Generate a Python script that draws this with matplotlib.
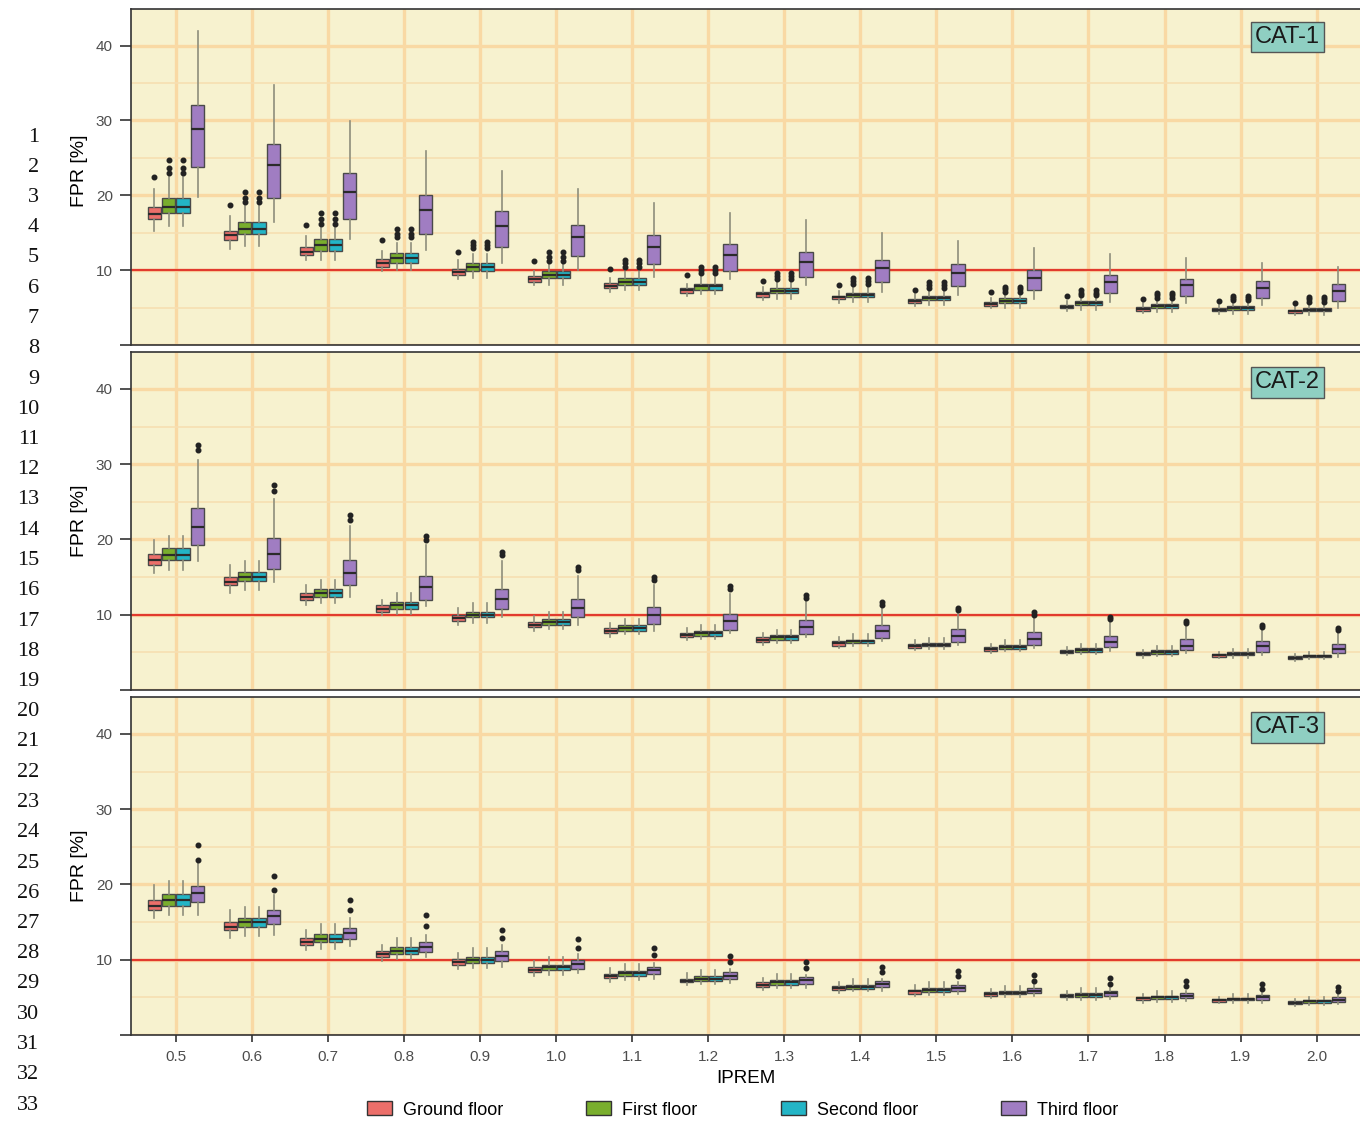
import matplotlib.pyplot as plt
from matplotlib.patches import Patch
from matplotlib.ticker import MultipleLocator

plt.rcParams['font.family'] = ['Liberation Sans', 'DejaVu Sans']

iprem = ['0.5', '0.6', '0.7', '0.8', '0.9', '1.0', '1.1', '1.2',
         '1.3', '1.4', '1.5', '1.6', '1.7', '1.8', '1.9', '2.0']
floors = ['Ground floor', 'First floor', 'Second floor', 'Third floor']
floor_colors = ['#ec6f6a', '#79ae2d', '#23b5c6', '#a07dc2']
panels = ['CAT-1', 'CAT-2', 'CAT-3']
threshold = 10

# ---- CAT-1 ----
cat1_ground = {
    'med': [17.5, 14.7, 12.4, 10.9, 9.8, 8.8, 7.9, 7.3, 6.8, 6.4, 5.9, 5.5, 5.1, 4.8, 4.7, 4.5],
    'q1':  [16.8, 14.0, 12.0, 10.4, 9.3, 8.4, 7.6, 7.0, 6.4, 6.1, 5.6, 5.2, 4.9, 4.6, 4.5, 4.3],
    'q3':  [18.4, 15.3, 13.1, 11.5, 10.2, 9.2, 8.3, 7.6, 7.1, 6.6, 6.1, 5.7, 5.3, 5.1, 4.9, 4.7],
    'lo':  [15.3, 12.8, 11.3, 9.9, 8.8, 8.0, 7.1, 6.6, 6.0, 5.6, 5.2, 4.9, 4.6, 4.3, 4.2, 4.0],
    'hi':  [20.8, 17.2, 14.5, 12.6, 11.3, 9.9, 8.9, 8.2, 7.8, 7.2, 6.8, 6.3, 5.9, 5.6, 5.4, 5.2],
}
cat1_ground_out = [[22.4], [18.7], [16.0], [14.0], [12.4], [11.2], [10.2], [9.3],
                   [8.6], [8.0], [7.4], [7.1], [6.5], [6.1], [5.9], [5.6]]

cat1_first = {
    'med': [18.4, 15.5, 13.3, 11.6, 10.4, 9.4, 8.4, 7.9, 7.2, 6.7, 6.3, 5.9, 5.6, 5.2, 4.9, 4.7],
    'q1':  [17.7, 14.8, 12.6, 11.0, 9.9, 8.9, 8.0, 7.4, 6.9, 6.4, 6.0, 5.6, 5.3, 5.0, 4.7, 4.5],
    'q3':  [19.7, 16.4, 14.1, 12.3, 10.9, 9.9, 8.9, 8.2, 7.6, 7.0, 6.6, 6.3, 5.9, 5.5, 5.2, 5.0],
    'lo':  [15.9, 13.2, 11.4, 10.0, 8.9, 8.0, 7.3, 6.8, 6.2, 5.8, 5.4, 5.0, 4.7, 4.4, 4.2, 4.0],
    'hi':  [22.5, 18.6, 15.6, 13.6, 12.2, 10.8, 9.9, 9.2, 8.4, 7.8, 7.2, 6.8, 6.4, 6.0, 5.7, 5.5],
}
cat1_first_out = [[23.0, 23.7, 24.7], [19.1, 19.7, 20.5], [16.2, 16.8, 17.7], [14.4, 14.9, 15.5],
                  [12.9, 13.3, 13.7], [11.2, 11.7, 12.4], [10.4, 10.9, 11.3], [9.6, 10.0, 10.4],
                  [8.8, 9.2, 9.6], [8.1, 8.5, 8.9], [7.6, 8.0, 8.4], [7.1, 7.5, 7.8],
                  [6.7, 7.0, 7.3], [6.3, 6.7, 7.0], [6.0, 6.3, 6.6], [5.8, 6.1, 6.4]]

cat1_second = {
    'med': [18.4, 15.5, 13.3, 11.6, 10.4, 9.4, 8.4, 7.9, 7.2, 6.7, 6.3, 5.9, 5.6, 5.2, 4.9, 4.7],
    'q1':  [17.7, 14.8, 12.6, 11.0, 9.9, 8.9, 8.0, 7.4, 6.9, 6.4, 6.0, 5.6, 5.3, 5.0, 4.7, 4.5],
    'q3':  [19.7, 16.4, 14.1, 12.3, 10.9, 9.9, 8.9, 8.2, 7.6, 7.0, 6.6, 6.3, 5.9, 5.5, 5.2, 5.0],
    'lo':  [15.9, 13.2, 11.4, 10.0, 8.9, 8.0, 7.3, 6.8, 6.2, 5.8, 5.4, 5.0, 4.7, 4.4, 4.2, 4.0],
    'hi':  [22.5, 18.6, 15.6, 13.6, 12.2, 10.8, 9.9, 9.2, 8.4, 7.8, 7.2, 6.8, 6.4, 6.0, 5.7, 5.5],
}
cat1_second_out = [[23.0, 23.7, 24.7], [19.1, 19.7, 20.5], [16.2, 16.8, 17.7], [14.4, 14.9, 15.5],
                   [12.9, 13.3, 13.7], [11.2, 11.7, 12.4], [10.4, 10.9, 11.3], [9.6, 10.0, 10.4],
                   [8.8, 9.2, 9.6], [8.1, 8.5, 8.9], [7.6, 8.0, 8.4], [7.1, 7.5, 7.8],
                   [6.7, 7.0, 7.3], [6.3, 6.7, 7.0], [6.0, 6.3, 6.6], [5.8, 6.1, 6.4]]

cat1_third = {
    'med': [28.8, 24.0, 20.5, 18.0, 15.9, 14.4, 13.1, 12.0, 11.1, 10.3, 9.6, 9.0, 8.4, 8.0, 7.6, 7.2],
    'q1':  [23.8, 19.7, 16.8, 14.8, 13.1, 11.9, 10.8, 9.9, 9.1, 8.4, 7.9, 7.3, 7.0, 6.5, 6.3, 5.9],
    'q3':  [32.1, 26.8, 23.0, 20.0, 17.9, 16.1, 14.7, 13.5, 12.4, 11.4, 10.8, 10.0, 9.4, 8.8, 8.5, 8.1],
    'lo':  [19.8, 16.5, 14.1, 12.7, 11.0, 10.0, 9.1, 8.8, 8.0, 7.1, 6.7, 6.1, 5.8, 5.6, 5.3, 4.9],
    'hi':  [41.9, 34.8, 29.9, 25.9, 23.2, 20.9, 19.0, 17.6, 16.7, 15.0, 13.9, 13.0, 12.2, 11.6, 11.0, 10.4],
}
cat1_third_out = [[] for _ in iprem]

# ---- CAT-2 ----
cat2_ground = {
    'med': [17.3, 14.4, 12.4, 10.8, 9.6, 8.7, 7.9, 7.3, 6.7, 6.2, 5.8, 5.5, 5.1, 4.8, 4.6, 4.3],
    'q1':  [16.6, 13.9, 11.9, 10.4, 9.2, 8.4, 7.6, 7.0, 6.4, 5.9, 5.6, 5.2, 4.9, 4.6, 4.4, 4.1],
    'q3':  [18.1, 15.0, 12.9, 11.3, 10.0, 9.0, 8.2, 7.6, 7.1, 6.5, 6.1, 5.7, 5.3, 5.0, 4.8, 4.5],
    'lo':  [15.6, 12.9, 11.3, 9.9, 8.7, 7.9, 7.1, 6.6, 6.0, 5.6, 5.3, 4.9, 4.6, 4.3, 4.2, 3.9],
    'hi':  [19.9, 16.6, 13.9, 12.0, 10.9, 9.8, 8.9, 8.2, 7.6, 7.0, 6.6, 6.1, 5.7, 5.3, 5.1, 4.8],
}
cat2_first = {
    'med': [18.0, 15.0, 12.9, 11.3, 10.0, 9.0, 8.2, 7.6, 7.0, 6.5, 6.0, 5.7, 5.3, 5.0, 4.8, 4.5],
    'q1':  [17.3, 14.5, 12.4, 10.8, 9.7, 8.7, 7.9, 7.2, 6.7, 6.2, 5.8, 5.5, 5.1, 4.8, 4.6, 4.4],
    'q3':  [18.8, 15.7, 13.4, 11.7, 10.4, 9.4, 8.6, 7.9, 7.3, 6.7, 6.3, 6.0, 5.6, 5.3, 5.0, 4.7],
    'lo':  [16.0, 13.3, 11.5, 10.1, 8.9, 8.1, 7.4, 6.8, 6.3, 5.8, 5.5, 5.2, 4.8, 4.5, 4.3, 4.1],
    'hi':  [20.5, 17.2, 14.6, 12.9, 11.5, 10.4, 9.4, 8.7, 8.0, 7.4, 6.9, 6.6, 6.1, 5.8, 5.4, 5.1],
}
cat2_second = {
    'med': [18.0, 15.0, 12.9, 11.3, 10.0, 9.0, 8.2, 7.6, 7.0, 6.5, 6.0, 5.7, 5.3, 5.0, 4.8, 4.5],
    'q1':  [17.3, 14.5, 12.4, 10.8, 9.7, 8.7, 7.9, 7.2, 6.7, 6.2, 5.8, 5.5, 5.1, 4.8, 4.6, 4.4],
    'q3':  [18.8, 15.7, 13.4, 11.7, 10.4, 9.4, 8.6, 7.9, 7.3, 6.7, 6.3, 6.0, 5.6, 5.3, 5.0, 4.7],
    'lo':  [16.0, 13.3, 11.5, 10.1, 8.9, 8.1, 7.4, 6.8, 6.3, 5.8, 5.5, 5.2, 4.8, 4.5, 4.3, 4.1],
    'hi':  [20.5, 17.2, 14.6, 12.9, 11.5, 10.4, 9.4, 8.7, 8.0, 7.4, 6.9, 6.6, 6.1, 5.8, 5.4, 5.1],
}
cat2_third = {
    'med': [21.7, 18.1, 15.6, 13.7, 12.1, 10.9, 10.0, 9.2, 8.4, 7.8, 7.2, 6.8, 6.4, 5.9, 5.8, 5.5],
    'q1':  [19.2, 16.1, 13.9, 12.0, 10.7, 9.7, 8.8, 8.0, 7.4, 6.9, 6.4, 6.0, 5.7, 5.3, 5.1, 4.9],
    'q3':  [24.2, 20.2, 17.3, 15.2, 13.4, 12.1, 11.0, 10.1, 9.3, 8.7, 8.1, 7.7, 7.2, 6.8, 6.5, 6.1],
    'lo':  [17.2, 14.4, 12.4, 11.1, 9.7, 8.6, 7.9, 7.6, 7.0, 6.5, 6.0, 5.6, 5.2, 4.9, 4.7, 4.4],
    'hi':  [30.5, 25.4, 21.8, 19.2, 17.1, 15.2, 13.9, 12.8, 11.9, 11.0, 10.1, 9.6, 9.0, 8.5, 8.1, 7.7],
}
cat2_third_out = [[31.9, 32.5], [26.5, 27.2], [22.6, 23.3], [19.9, 20.4], [17.9, 18.3],
                  [15.9, 16.4], [14.6, 15.0], [13.4, 13.8], [12.2, 12.6], [11.3, 11.7],
                  [10.6, 10.9], [10.0, 10.3], [9.4, 9.7], [8.9, 9.2], [8.4, 8.7], [8.0, 8.3]]

# ---- CAT-3 ----
cat3_ground = {
    'med': [17.2, 14.4, 12.4, 10.8, 9.7, 8.7, 7.9, 7.2, 6.7, 6.2, 5.8, 5.5, 5.2, 4.9, 4.6, 4.3],
    'q1':  [16.6, 13.9, 11.9, 10.4, 9.3, 8.4, 7.6, 7.0, 6.4, 6.0, 5.5, 5.2, 5.0, 4.7, 4.4, 4.1],
    'q3':  [18.0, 15.0, 12.9, 11.2, 10.1, 9.1, 8.1, 7.5, 7.0, 6.5, 6.0, 5.7, 5.4, 5.1, 4.8, 4.5],
    'lo':  [15.5, 12.9, 11.3, 9.9, 8.8, 7.9, 7.1, 6.6, 6.0, 5.6, 5.2, 4.9, 4.6, 4.3, 4.2, 3.9],
    'hi':  [19.9, 16.6, 13.9, 12.0, 10.9, 9.8, 8.9, 8.2, 7.6, 7.0, 6.6, 6.1, 5.8, 5.4, 5.1, 4.8],
}
cat3_first = {
    'med': [17.9, 15.0, 12.8, 11.2, 10.0, 9.0, 8.2, 7.5, 7.0, 6.4, 6.0, 5.6, 5.3, 5.0, 4.8, 4.5],
    'q1':  [17.2, 14.3, 12.4, 10.8, 9.6, 8.6, 7.9, 7.2, 6.7, 6.1, 5.7, 5.4, 5.1, 4.8, 4.6, 4.3],
    'q3':  [18.7, 15.6, 13.4, 11.7, 10.4, 9.3, 8.5, 7.8, 7.3, 6.7, 6.3, 5.9, 5.6, 5.2, 4.9, 4.7],
    'lo':  [15.9, 13.2, 11.4, 10.1, 8.9, 8.0, 7.3, 6.8, 6.2, 5.8, 5.3, 5.0, 4.7, 4.4, 4.2, 4.0],
    'hi':  [20.4, 17.0, 14.7, 12.9, 11.5, 10.4, 9.5, 8.7, 8.1, 7.4, 7.0, 6.5, 6.2, 5.8, 5.5, 5.1],
}
cat3_second = {
    'med': [17.9, 15.0, 12.8, 11.2, 10.0, 9.0, 8.2, 7.5, 7.0, 6.4, 6.0, 5.6, 5.3, 5.0, 4.8, 4.5],
    'q1':  [17.2, 14.3, 12.4, 10.8, 9.6, 8.6, 7.9, 7.2, 6.7, 6.1, 5.7, 5.4, 5.1, 4.8, 4.6, 4.3],
    'q3':  [18.7, 15.6, 13.4, 11.7, 10.4, 9.3, 8.5, 7.8, 7.3, 6.7, 6.3, 5.9, 5.6, 5.2, 4.9, 4.7],
    'lo':  [15.9, 13.2, 11.4, 10.1, 8.9, 8.0, 7.3, 6.8, 6.2, 5.8, 5.3, 5.0, 4.7, 4.4, 4.2, 4.0],
    'hi':  [20.4, 17.0, 14.7, 12.9, 11.5, 10.4, 9.5, 8.7, 8.1, 7.4, 7.0, 6.5, 6.2, 5.8, 5.5, 5.1],
}
cat3_third = {
    'med': [18.8, 15.8, 13.5, 11.7, 10.5, 9.4, 8.7, 7.9, 7.3, 6.8, 6.3, 5.9, 5.6, 5.2, 5.0, 4.7],
    'q1':  [17.7, 14.8, 12.7, 11.0, 9.8, 8.8, 8.1, 7.4, 6.8, 6.4, 5.9, 5.6, 5.2, 4.9, 4.7, 4.4],
    'q3':  [19.8, 16.6, 14.2, 12.4, 11.1, 10.0, 9.1, 8.4, 7.7, 7.2, 6.7, 6.3, 5.9, 5.6, 5.3, 5.1],
    'lo':  [15.9, 13.3, 11.8, 10.3, 9.1, 8.2, 7.4, 6.9, 6.3, 5.9, 5.5, 5.2, 4.8, 4.5, 4.3, 4.1],
    'hi':  [22.8, 18.6, 15.5, 13.3, 12.0, 10.7, 9.6, 8.8, 8.0, 7.5, 7.0, 6.6, 6.2, 5.9, 5.6, 5.4],
}
cat3_third_out = [[23.3, 25.2], [19.3, 21.1], [16.6, 18.0], [14.5, 15.9], [12.9, 14.0],
                  [11.6, 12.7], [10.6, 11.5], [9.7, 10.5], [8.9, 9.7], [8.4, 9.1],
                  [7.9, 8.5], [7.2, 8.0], [6.8, 7.6], [6.5, 7.2], [6.1, 6.8], [5.9, 6.4]]

no_out = [[] for _ in iprem]
panel_data = [
    [(cat1_ground, cat1_ground_out), (cat1_first, cat1_first_out),
     (cat1_second, cat1_second_out), (cat1_third, cat1_third_out)],
    [(cat2_ground, no_out), (cat2_first, no_out), (cat2_second, no_out), (cat2_third, cat2_third_out)],
    [(cat3_ground, no_out), (cat3_first, no_out), (cat3_second, no_out), (cat3_third, cat3_third_out)],
]


def make_stats(s, out):
    return [dict(med=s['med'][i], q1=s['q1'][i], q3=s['q3'][i],
                 whislo=s['lo'][i], whishi=s['hi'][i], fliers=out[i])
            for i in range(len(iprem))]


fig = plt.figure(figsize=(13.6, 11.22), dpi=100)
# axes boxes in figure fraction: left, bottom, width, height
boxes = [(0.0963, 0.6925, 0.9037, 0.2995),
         (0.0963, 0.3850, 0.9037, 0.3013),
         (0.0963, 0.0775, 0.9037, 0.3013)]
offsets = [-0.285, -0.095, 0.095, 0.285]
xs = list(range(len(iprem)))

for p, ax_box in enumerate(boxes):
    ax = fig.add_axes(ax_box)
    ax.set_facecolor('#f7f2cf')
    ax.set_axisbelow(True)
    for k in range(4):
        s, out = panel_data[p][k]
        ax.bxp(make_stats(s, out), positions=[x + offsets[k] for x in xs],
               widths=0.175, patch_artist=True, showcaps=False, manage_ticks=False,
               boxprops=dict(facecolor=floor_colors[k], edgecolor='#4a4a4a', linewidth=1),
               medianprops=dict(color='#2b2b2b', linewidth=1.6),
               whiskerprops=dict(color='#8e8e7c', linewidth=1.2),
               flierprops=dict(marker='o', markerfacecolor='#222222',
                               markeredgecolor='#222222', markersize=3.3))
    ax.axhline(threshold, color='#e23b2e', lw=1.6, zorder=1.5)
    ax.set_xlim(-0.59, 15.57)
    ax.set_ylim(0, 44.9)
    ax.set_yticks([0, 10, 20, 30, 40])
    ax.set_yticklabels(['', '10', '20', '30', '40'])
    ax.yaxis.set_minor_locator(MultipleLocator(5))
    ax.set_xticks(xs)
    ax.grid(True, which='major', axis='both', color='#f9d9a4', lw=2.4)
    ax.grid(True, which='minor', axis='y', color='#f6dfb2', lw=1.2)
    ax.tick_params(axis='y', which='minor', length=0)
    ax.tick_params(axis='y', which='major', length=8, width=1.2, color='#333333',
                   labelsize=11, labelcolor='#4d4d4d', pad=5)
    if p == 2:
        ax.set_xticklabels(iprem)
        ax.tick_params(axis='x', length=5, width=1.2, color='#333333',
                       labelsize=11, labelcolor='#4d4d4d', pad=6)
        ax.set_xlabel('IPREM', fontsize=13.5, labelpad=4)
    else:
        ax.tick_params(axis='x', length=0, labelbottom=False)
    for side in ['top', 'left', 'bottom']:
        ax.spines[side].set_color('#333333')
        ax.spines[side].set_linewidth(1.2)
    ax.spines['right'].set_visible(False)
    ax.set_ylabel('FPR [%]', fontsize=14)
    ax.yaxis.set_label_coords(-0.035, 0.52 if p == 0 else 0.5)
    ax.text(0.941, 0.917 if p == 0 else 0.91, panels[p], transform=ax.transAxes,
            fontsize=17, ha='center', va='center', color='#1a1a1a',
            bbox=dict(boxstyle='square,pad=0.18', facecolor='#8fcfc2', edgecolor='#555555', lw=1))

handles = [Patch(facecolor=c, edgecolor='#333333', label=f) for c, f in zip(floor_colors, floors)]
fig.legend(handles=handles, loc='center', bbox_to_anchor=(0.546, 0.0107), ncol=4,
           frameon=False, fontsize=13, handlelength=1.4, handleheight=0.8,
           handletextpad=0.6, columnspacing=4.6)

# manuscript line numbers in the left margin
for n in range(1, 34):
    y = 137 + (n - 1) * 30.25
    fig.text(39 / 1360, 1 - y / 1122, str(n), ha='right', va='center',
             fontsize=16, family='Liberation Serif', color='#111111')

fig.savefig('out.png', dpi=100)
